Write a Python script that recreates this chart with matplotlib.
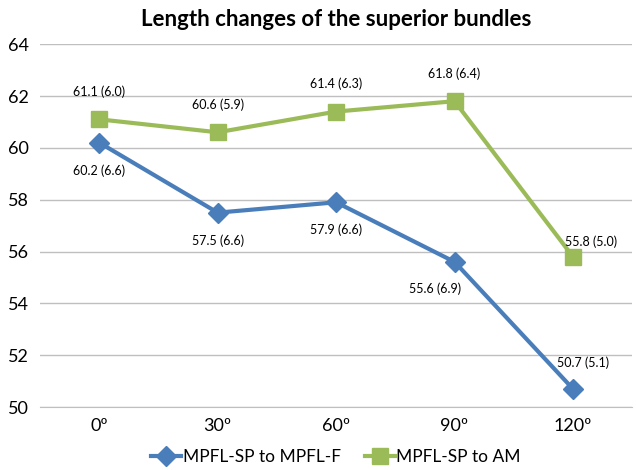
import matplotlib.pyplot as plt

plt.rcParams['font.family'] = ['Lato', 'DejaVu Sans']

angles = ['0º', '30º', '60º', '90º', '120º']
mpfl_f = [60.2, 57.5, 57.9, 55.6, 50.7]
mpfl_f_sd = [6.6, 6.6, 6.6, 6.9, 5.1]
am = [61.1, 60.6, 61.4, 61.8, 55.8]
am_sd = [6.0, 5.9, 6.3, 6.4, 5.0]

blue = '#4a7ebb'
green = '#9bbb59'

fig = plt.figure(figsize=(6.36, 4.70), dpi=100)
ax = fig.add_axes([0.063, 0.134, 0.931, 0.772])

x = list(range(len(angles)))
ax.plot(x, mpfl_f, color=blue, lw=3, marker='D', ms=10, label='MPFL-SP to MPFL-F', zorder=3)
ax.plot(x, am, color=green, lw=3, marker='s', ms=12, label='MPFL-SP to AM', zorder=3)

# label offsets (points) for each point
off_f = [(0, -20), (0, -20), (0, -20), (-14, -19), (7, 19)]
off_am = [(0, 20), (0, 20), (0, 20), (0, 20), (13, 11)]
for i in x:
    ax.annotate(f'{mpfl_f[i]} ({mpfl_f_sd[i]})', (i, mpfl_f[i]), xytext=off_f[i],
                textcoords='offset points', ha='center', va='center', fontsize=9)
    ax.annotate(f'{am[i]} ({am_sd[i]})', (i, am[i]), xytext=off_am[i],
                textcoords='offset points', ha='center', va='center', fontsize=9)

ax.set_xlim(-0.5, len(angles) - 0.5)
ax.set_ylim(50, 64)
ax.set_yticks(range(50, 65, 2))
ax.set_xticks(x)
ax.set_xticklabels(angles)
ax.tick_params(length=0, labelsize=13, pad=8)
ax.grid(axis='y', color='#bfbfbf', lw=1)
ax.set_axisbelow(True)
for s in ['left', 'right', 'top']:
    ax.spines[s].set_visible(False)
ax.spines['bottom'].set_color('#bfbfbf')

ax.set_title('Length changes of the superior bundles', fontsize=16, fontweight='bold', pad=13)
ax.legend(loc='upper center', bbox_to_anchor=(0.5, -0.112), ncol=2, frameon=False,
          fontsize=12.5, handlelength=1.7, handletextpad=0.1, columnspacing=1.4,
          borderaxespad=0, borderpad=0.1)

fig.savefig('out.png', dpi=100)
